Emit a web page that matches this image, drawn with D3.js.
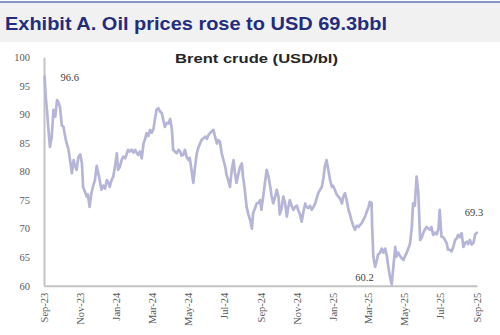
<!DOCTYPE html>
<html><head><meta charset="utf-8">
<script src="https://cdn.jsdelivr.net/npm/d3@7"></script>
<style>html,body{margin:0;padding:0;background:#fff;}svg{display:block;}</style>
</head><body>
<svg id="c" width="500" height="335"></svg>
<script>
const titleText = "Exhibit A. Oil prices rose to USD 69.3bbl";
const subtitleText = "Brent crude (USD/bl)";
const yTicks = [60, 65, 70, 75, 80, 85, 90, 95, 100];
const xTickLabels = ["Sep-23","Nov-23","Jan-24","Mar-24","May-24","Jul-24","Sep-24","Nov-24","Jan-25","Mar-25","May-25","Jul-25","Sep-25"];
const axisStart = "2023-09-24";
const axisEnd = "2025-09-24";
const dates = [
"2023-09-25","2023-09-27","2023-09-29","2023-10-01","2023-10-04","2023-10-07","2023-10-10","2023-10-13","2023-10-16","2023-10-18",
"2023-10-21","2023-10-24","2023-10-27","2023-10-29","2023-11-01","2023-11-04","2023-11-07","2023-11-10","2023-11-13","2023-11-15",
"2023-11-18","2023-11-21","2023-11-24","2023-11-27","2023-11-29","2023-12-02","2023-12-05","2023-12-07","2023-12-10","2023-12-13",
"2023-12-16","2023-12-19","2023-12-22","2023-12-24","2023-12-26","2023-12-30","2024-01-02","2024-01-05","2024-01-08","2024-01-11",
"2024-01-13","2024-01-16","2024-01-19","2024-01-22","2024-01-25","2024-01-27","2024-01-30","2024-02-02","2024-02-05","2024-02-08",
"2024-02-11","2024-02-13","2024-02-16","2024-02-19","2024-02-22","2024-02-25","2024-02-28","2024-03-01","2024-03-04","2024-03-07",
"2024-03-10","2024-03-13","2024-03-15","2024-03-18","2024-03-21","2024-03-24","2024-03-27","2024-03-29","2024-04-01","2024-04-04",
"2024-04-07","2024-04-10","2024-04-12","2024-04-15","2024-04-18","2024-04-21","2024-04-24","2024-04-27","2024-04-29","2024-05-02",
"2024-05-05","2024-05-08","2024-05-11","2024-05-13","2024-05-16","2024-05-19","2024-05-22","2024-05-25","2024-05-27","2024-05-30",
"2024-06-02","2024-06-05","2024-06-08","2024-06-10","2024-06-13","2024-06-16","2024-06-19","2024-06-22","2024-06-25","2024-06-27",
"2024-06-30","2024-07-03","2024-07-06","2024-07-09","2024-07-12","2024-07-14","2024-07-17","2024-07-20","2024-07-23","2024-07-26",
"2024-07-28","2024-07-31","2024-08-03","2024-08-06","2024-08-09","2024-08-11","2024-08-14","2024-08-17","2024-08-20","2024-08-23",
"2024-08-25","2024-08-28","2024-08-31","2024-09-03","2024-09-06","2024-09-09","2024-09-11","2024-09-14","2024-09-17","2024-09-20",
"2024-09-23","2024-09-25","2024-09-28","2024-10-01","2024-10-04","2024-10-07","2024-10-10","2024-10-12","2024-10-15","2024-10-18",
"2024-10-21","2024-10-24","2024-10-26","2024-10-29","2024-11-01","2024-11-04","2024-11-07","2024-11-09","2024-11-12","2024-11-15",
"2024-11-18","2024-11-21","2024-11-24","2024-11-26","2024-11-29","2024-12-02","2024-12-05","2024-12-08","2024-12-10","2024-12-13",
"2024-12-16","2024-12-19","2024-12-22","2024-12-25","2024-12-27","2024-12-30","2025-01-02","2025-01-05","2025-01-08","2025-01-10",
"2025-01-13","2025-01-16","2025-01-19","2025-01-22","2025-01-24","2025-01-27","2025-01-30","2025-02-02","2025-02-05","2025-02-08",
"2025-02-10","2025-02-13","2025-02-16","2025-02-19","2025-02-22","2025-02-24","2025-02-27","2025-03-02","2025-03-05","2025-03-08",
"2025-03-10","2025-03-13","2025-03-16","2025-03-19","2025-03-22","2025-03-25","2025-03-27","2025-03-30","2025-03-31","2025-04-02",
"2025-04-05","2025-04-08","2025-04-10","2025-04-13","2025-04-16","2025-04-19","2025-04-22","2025-04-25","2025-04-27","2025-04-30",
"2025-05-03","2025-05-06","2025-05-09","2025-05-11","2025-05-14","2025-05-17","2025-05-20","2025-05-23","2025-05-25","2025-05-28",
"2025-05-31","2025-06-03","2025-06-06","2025-06-08","2025-06-11","2025-06-14","2025-06-17","2025-06-20","2025-06-23","2025-06-25",
"2025-06-28","2025-07-01","2025-07-04","2025-07-07","2025-07-09","2025-07-12","2025-07-15","2025-07-18","2025-07-21","2025-07-23",
"2025-07-26","2025-07-29","2025-08-01","2025-08-04","2025-08-06","2025-08-09","2025-08-12","2025-08-15","2025-08-18","2025-08-21",
"2025-08-23","2025-08-26","2025-08-29","2025-09-01","2025-09-04","2025-09-07","2025-09-09","2025-09-12","2025-09-15","2025-09-18",
"2025-09-21","2025-09-24"
];
const brent = [
96.6,93,90.8,88,84.3,86,90.8,89.6,92.5,92.2,
91.3,88.1,87.8,86.5,85,84,82,79.7,82,81,
80.3,82.5,83,81.5,77.3,76.5,75.6,76,73.8,76.2,
77.5,78.5,81,80,79.1,76.8,77.5,77,78.5,78,
77.3,78.5,79.1,81,83.2,80.3,80.8,82,82.6,82.3,
83.2,83.8,83.5,83.8,83.3,83.8,83.2,82.9,83.5,82.3,
84.9,85.8,86.7,86.2,87.3,86.8,87.5,89,90.8,91.1,
90.5,90.2,89.2,87.8,88.5,88.4,89.2,87.3,83.8,83.5,
83.2,83.8,83.5,82.8,82.9,83.8,82.5,82,82.4,80.3,
78,80.8,83.2,84,84.8,85.5,85.8,86.1,85.7,86.3,
86.7,87,87.3,86,84.9,85.5,85.2,83.2,82,80.8,
79.5,78.5,77.3,80.3,82,80,78,79.5,80.8,81.4,
79.1,76.8,73.8,72.5,71.5,70.0,72.7,73.5,74.4,74.5,
75,73.3,75.6,78,80.3,79.1,77.3,75.8,74.4,75.5,
76.8,75.5,72.5,73.5,75.6,74.5,72.1,73.5,75,74,
73.3,73.8,74,73.3,72.5,71.2,73,74.4,73.8,73.6,
74,73.3,73.8,74.4,75.2,76.2,76.8,77.3,79,80.8,
82,80.3,78.5,77.3,77.5,76.8,76,75.6,75.2,74.4,
75.5,76.2,75,73.3,72.3,71.5,70.5,69.8,70.5,70.3,
70.6,70.9,71.5,72.1,73,73.8,74.7,74.5,70.3,65.1,
63.3,64.5,65.5,65.7,66.5,65.8,66.5,65.1,63.5,61.6,
60.2,63.5,66.8,65.1,65.8,65.2,64.8,64.5,65.1,65.7,
66.5,67.4,70.3,74.4,74.0,79.1,76.2,68,68.5,69.2,
69.8,70.3,70.0,69.8,70.3,68.9,69.3,69,70.0,73.3,
68.6,68.5,68,67.4,66.3,66.3,66,66.8,68,68.3,
68.9,68.5,69.2,66.8,67.5,67.7,67.3,68,67.2,67.5,
69.0,69.3
];
const annotations = [
  {date: "2023-09-25", value: 96.6, text: "96.6"},
  {date: "2025-05-03", value: 60.2, text: "60.2"},
  {date: "2025-09-24", value: 69.3, text: "69.3"}
];

const parse = d3.timeParse("%Y-%m-%d");
const data = dates.map((d, i) => ({date: parse(d), value: brent[i]}));

const svg = d3.select("#c");
const W = 500, H = 335;
const m = {left: 44, right: 23, top: 57.3, bottom: 49.3};

// title band
svg.append("rect").attr("x", 0).attr("y", 3).attr("width", W).attr("height", 39).attr("fill", "#f1f1f1");
svg.append("line").attr("x1", 0).attr("x2", W).attr("y1", 2).attr("y2", 2).attr("stroke", "#8796c4").attr("stroke-width", 2);
svg.append("text").attr("x", 5).attr("y", 30)
  .attr("font-family", "Liberation Sans, Arial, sans-serif").attr("font-weight", "bold").attr("font-size", 19)
  .attr("fill", "#232d7e").attr("textLength", 382).attr("lengthAdjust", "spacingAndGlyphs")
  .text(titleText);

svg.append("text").attr("x", 256.5).attr("y", 63).attr("text-anchor", "middle")
  .attr("font-family", "Liberation Sans, Arial, sans-serif").attr("font-weight", "bold").attr("font-size", 12.5)
  .attr("fill", "#262626").attr("textLength", 163).attr("lengthAdjust", "spacingAndGlyphs")
  .text(subtitleText);

const x = d3.scaleTime().domain([parse(axisStart), parse(axisEnd)]).range([m.left, W - m.right]);
const y = d3.scaleLinear().domain([60, 100]).range([H - m.bottom, m.top]);

const tickDates = xTickLabels.map((_, i) => d3.timeMonth.offset(parse(axisStart), 2 * i));

// y axis
const gy = svg.append("g").attr("transform", `translate(${m.left},0)`)
  .call(d3.axisLeft(y).tickValues(yTicks).tickSize(0).tickSizeOuter(0).tickPadding(14));
gy.select(".domain").attr("stroke", "#c3c3c3").attr("stroke-width", 2);
gy.selectAll("text").attr("font-family", "Liberation Serif, serif").attr("font-size", 10.5).attr("fill", "#595959");

// x axis
const gx = svg.append("g").attr("transform", `translate(0,${H - m.bottom})`)
  .call(d3.axisBottom(x).tickValues(tickDates).tickFormat((d, i) => xTickLabels[i]).tickSize(0).tickSizeOuter(0));
gx.select(".domain").attr("stroke", "#c3c3c3").attr("stroke-width", 2);
gx.selectAll("text")
  .attr("font-family", "Liberation Serif, serif").attr("font-size", 10.5).attr("fill", "#595959")
  .attr("transform", "rotate(-90)").attr("text-anchor", "end")
  .attr("x", -7).attr("y", 0).attr("dy", "0.33em");

// line
const line = d3.line().x(d => x(d.date)).y(d => y(d.value));
svg.append("path").datum(data).attr("d", line)
  .attr("fill", "none").attr("stroke", "#b5b5d8").attr("stroke-width", 2.7)
  .attr("stroke-linejoin", "round").attr("stroke-linecap", "round");

// annotations
const annoStyle = [
  {dx: 16, dy: 4, anchor: "start"},
  {dx: -18, dy: -4, anchor: "end"},
  {dx: -3, dy: -17, anchor: "middle"}
];
annotations.forEach((a, i) => {
  svg.append("text")
    .attr("x", x(parse(a.date)) + annoStyle[i].dx)
    .attr("y", y(a.value) + annoStyle[i].dy)
    .attr("text-anchor", annoStyle[i].anchor)
    .attr("font-family", "Liberation Serif, serif").attr("font-size", 10.5).attr("fill", "#404040")
    .text(a.text);
});
</script>
</body></html>
